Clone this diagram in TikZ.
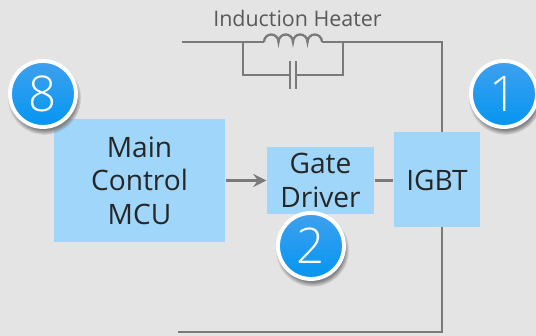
\documentclass[tikz,border=0pt]{standalone}
\usepackage{fontspec}
\setmainfont{Open Sans}
\newfontfamily\badgefont{Open Sans Light}
\usetikzlibrary{shadows}
\definecolor{bgGray}{HTML}{E4E4E4}
\definecolor{wireGray}{HTML}{7A7A7A}
\definecolor{boxBlue}{HTML}{9FD6FA}
\definecolor{badgeTop}{HTML}{3FA0EE}
\definecolor{badgeBot}{HTML}{0396F2}
\tikzset{
 wire/.style={draw=wireGray,line width=0.72pt},
 link/.style={draw=wireGray,line width=0.65pt},
 block/.style={fill=boxBlue,align=center,text=black!85,inner sep=0pt,font=\fontsize{8}{9.5}\selectfont},
 badge/.style={circle,draw=white,line width=1.1pt,minimum size=0.66cm,inner sep=0pt,
  top color=badgeTop,bottom color=badgeBot,text=white,font=\badgefont\fontsize{14}{14}\selectfont,
  circular drop shadow={shadow xshift=0.3pt,shadow yshift=-1pt,shadow scale=1.12}}
}
\begin{document}
\begin{tikzpicture}[>=stealth,line join=miter]
 \fill[bgGray] (0,0) rectangle (5.36,3.36);
 \useasboundingbox (0,0) rectangle (5.36,3.36);
 % power loop
 \coordinate (topL) at (1.82,2.94);
 \coordinate (coilL) at (2.64,2.94);
 \coordinate (coilR) at (3.22,2.94);
 \coordinate (topR) at (4.42,2.94);
 \coordinate (botR) at (4.42,0.04);
 \coordinate (botL) at (1.78,0.04);
 \coordinate (tapL) at (2.43,2.94);
 \coordinate (tapR) at (3.43,2.94);
 \coordinate (capL) at (2.90,2.61);
 \coordinate (capR) at (2.96,2.61);
 \draw[wire] (topL) -- (coilL);
 \draw[wire] (coilR) -- (topR) -- (botR) -- (botL);
 \draw[link] (coilL) \foreach \i in {1,...,4} {arc[start angle=180,end angle=0,x radius=0.0725,y radius=0.075]};
 \draw[wire] (tapL) |- (capL);
 \draw[wire] (tapR) |- (capR);
 \draw[wire] ([yshift=-0.14cm]capL) -- ([yshift=0.14cm]capL);
 \draw[wire] ([yshift=-0.14cm]capR) -- ([yshift=0.14cm]capR);
 \node[text=black!65,font=\fontsize{6.1}{7}\selectfont] (heater) at (2.975,3.18) {Induction Heater};
 % blocks
 \node[block,minimum width=1.71cm,minimum height=1.23cm] (mcu) at (1.395,1.555) {Main\\Control\\MCU};
 \node[block,minimum width=1.07cm,minimum height=0.67cm] (gate) at (3.205,1.555) {Gate\\Driver};
 \node[block,minimum width=0.86cm,minimum height=0.95cm] (igbt) at (4.37,1.56) {IGBT};
 \draw[link,->] (mcu) -- (gate);
 \draw[link] (gate) -- (gate-|igbt.west);
 % badges
 \node[badge] (badgeE) at (0.43,2.42) {8};
 \node[badge] (badgeA) at (5.04,2.42) {1};
 \node[badge] (badgeB) at (3.11,0.90) {2};
\end{tikzpicture}
\end{document}
